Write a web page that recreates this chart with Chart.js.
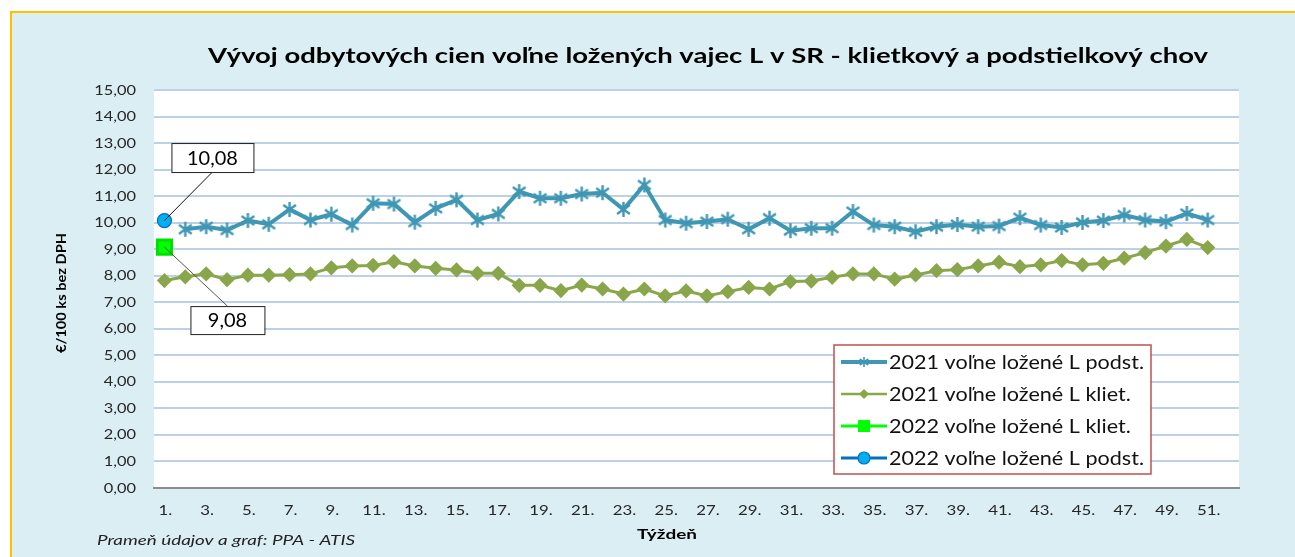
<!DOCTYPE html>
<html>
<head>
<meta charset="utf-8">
<script src="https://cdn.jsdelivr.net/npm/chart.js@4.4.1/dist/chart.umd.min.js"></script>
<style>
  html, body { margin: 0; padding: 0; background: #fff; }
  #wrap { width: 1295px; height: 557px; }
</style>
</head>
<body>
<div id="wrap"><canvas id="chart" width="1295" height="557"></canvas></div>
<script>
// week labels (x axis)
const weeks = ['1.', '2.', '3.', '4.', '5.', '6.', '7.', '8.', '9.', '10.',
  '11.', '12.', '13.', '14.', '15.', '16.', '17.', '18.', '19.', '20.',
  '21.', '22.', '23.', '24.', '25.', '26.', '27.', '28.', '29.', '30.',
  '31.', '32.', '33.', '34.', '35.', '36.', '37.', '38.', '39.', '40.',
  '41.', '42.', '43.', '44.', '45.', '46.', '47.', '48.', '49.', '50.',
  '51.', '52.'];

// EUR / 100 ks bez DPH
const podst2021 = [null, 9.75, 9.85, 9.72, 10.08, 9.94, 10.50, 10.10, 10.32, 9.91,
  10.73, 10.70, 10.02, 10.54, 10.86, 10.10, 10.33, 11.17, 10.92, 10.92,
  11.08, 11.13, 10.50, 11.42, 10.10, 9.98, 10.04, 10.13, 9.75, 10.17,
  9.70, 9.79, 9.79, 10.42, 9.91, 9.85, 9.66, 9.85, 9.93, 9.85,
  9.87, 10.19, 9.91, 9.82, 10.01, 10.08, 10.29, 10.10, 10.04, 10.35,
  10.10, null];
const kliet2021 = [7.82, 7.96, 8.07, 7.85, 8.02, 8.02, 8.04, 8.07, 8.30, 8.37,
  8.39, 8.53, 8.37, 8.28, 8.22, 8.09, 8.09, 7.64, 7.64, 7.44,
  7.65, 7.50, 7.31, 7.50, 7.24, 7.43, 7.24, 7.40, 7.56, 7.50,
  7.78, 7.80, 7.94, 8.07, 8.07, 7.87, 8.03, 8.19, 8.23, 8.37,
  8.51, 8.34, 8.41, 8.57, 8.41, 8.47, 8.66, 8.87, 9.12, 9.37,
  9.06, null];
const kliet2022 = [9.08];
const podst2022 = [10.08];

const FONT = 'Lato, "Open Sans", sans-serif';
const fmt = v => v.toFixed(2).replace('.', ',');

// text drawn a bit wider, the reference picture is stretched horizontally
function wideText(ctx, text, x, y, sx, align) {
  ctx.save();
  ctx.translate(x, y);
  ctx.scale(sx, 1);
  ctx.textAlign = align;
  ctx.fillText(text, 0, 0);
  ctx.restore();
}
function fitText(ctx, text, x, y, width, align) {
  wideText(ctx, text, x, y, width / ctx.measureText(text).width, align);
}

// asterisk marker like the Excel "star" marker
function asterisk(color, size, lw) {
  const c = document.createElement('canvas');
  c.width = c.height = size;
  const g = c.getContext('2d');
  g.strokeStyle = color;
  g.lineWidth = lw;
  const m = size / 2, r = size / 2 - 1;
  g.beginPath();
  g.moveTo(m - r * 0.85, m - r * 0.6); g.lineTo(m + r * 0.85, m + r * 0.6);
  g.moveTo(m + r * 0.85, m - r * 0.6); g.lineTo(m - r * 0.85, m + r * 0.6);
  g.moveTo(m, m - r); g.lineTo(m, m + r);
  g.stroke();
  return c;
}
const starImg = asterisk('#3f97b4', 17, 2.4);
const starSmall = asterisk('#3f97b4', 12, 1.6);

const backdrop = {
  id: 'backdrop',
  beforeDraw(chart) {
    const { ctx, chartArea: a } = chart;
    ctx.save();
    ctx.fillStyle = '#ffffff';
    ctx.fillRect(0, 0, chart.width, chart.height);
    ctx.fillStyle = '#dbeef4';
    ctx.fillRect(11, 12, chart.width, chart.height);
    ctx.strokeStyle = '#ffc000';
    ctx.lineWidth = 2;
    ctx.beginPath();
    ctx.moveTo(11, chart.height);
    ctx.lineTo(11, 12);
    ctx.lineTo(chart.width, 12);
    ctx.stroke();
    ctx.fillStyle = '#ffffff';
    ctx.fillRect(a.left, a.top, a.right - a.left, a.bottom - a.top);
    ctx.restore();
  }
};

// tick labels, titles and source note
const texts = {
  id: 'texts',
  afterDraw(chart) {
    const { ctx } = chart;
    const xs = chart.scales.x, ys = chart.scales.y;
    ctx.save();
    ctx.textBaseline = 'middle';
    ctx.fillStyle = '#262626';
    ctx.font = '14px ' + FONT;
    ys.ticks.forEach((t, i) => {
      wideText(ctx, fmt(t.value), 136, ys.getPixelForTick(i), 1.17, 'right');
    });
    xs.ticks.forEach((t, i) => {
      if (i % 2) return;
      wideText(ctx, xs.getLabelForValue(t.value), xs.getPixelForTick(i) + 1, 510, 1.2, 'center');
    });

    ctx.fillStyle = '#000';
    ctx.font = 'bold 21px ' + FONT;
    fitText(ctx, 'Vývoj odbytových cien voľne ložených vajec L v SR - klietkový a podstielkový chov', 708, 56, 1000, 'center');
    ctx.font = 'bold 14px ' + FONT;
    fitText(ctx, 'Týždeň', 667, 534, 60, 'center');
    ctx.save();
    ctx.translate(61, 293);
    ctx.rotate(-Math.PI / 2);
    ctx.font = 'bold 14px ' + FONT;
    fitText(ctx, '€/100 ks bez DPH', 0, 0, 120, 'center');
    ctx.restore();
    ctx.fillStyle = '#222';
    ctx.font = 'italic 13px ' + FONT;
    fitText(ctx, 'Prameň údajov a graf: PPA - ATIS', 97, 541, 258, 'left');
    ctx.restore();
  }
};

// boxed value labels with a leader line to the point
const callouts = {
  id: 'callouts',
  afterDatasetsDraw(chart) {
    const { ctx } = chart;
    chart.data.datasets.forEach((ds, i) => {
      if (!ds.callout) return;
      const pt = chart.getDatasetMeta(i).data[0];
      const c = ds.callout;
      const bx = pt.x + c.dx, by = pt.y + c.dy;
      ctx.save();
      ctx.strokeStyle = c.lineColor;
      ctx.lineWidth = 1;
      ctx.beginPath();
      ctx.moveTo(pt.x, pt.y);
      ctx.lineTo(bx, by + (c.dy < 0 ? c.h / 2 : -c.h / 2));
      ctx.stroke();
      ctx.fillStyle = '#fff';
      ctx.fillRect(bx - c.w / 2, by - c.h / 2, c.w, c.h);
      ctx.strokeStyle = '#222';
      ctx.strokeRect(bx - c.w / 2 + 0.5, by - c.h / 2 + 0.5, c.w, c.h);
      ctx.fillStyle = '#000';
      ctx.font = '19px ' + FONT;
      ctx.textBaseline = 'middle';
      wideText(ctx, fmt(ds.data[0]), bx, by + 1, 1.05, 'center');
      ctx.restore();
    });
  }
};

const boxLegend = {
  id: 'boxLegend',
  afterDraw(chart) {
    const { ctx } = chart;
    const x = 834, y = 345, w = 317, h = 129;
    ctx.save();
    ctx.fillStyle = '#fff';
    ctx.fillRect(x, y, w, h);
    ctx.strokeStyle = '#c0504d';
    ctx.lineWidth = 1.5;
    ctx.strokeRect(x, y, w, h);
    ctx.font = '19px ' + FONT;
    const longest = Math.max(...chart.data.datasets.map(d => ctx.measureText(d.label).width));
    const sx = 255 / longest;
    chart.data.datasets.forEach((ds, k) => {
      const cy = y + 17 + k * 32;
      ctx.strokeStyle = ds.borderColor;
      ctx.lineWidth = ds.legendLine;
      ctx.beginPath();
      ctx.moveTo(841, cy);
      ctx.lineTo(887, cy);
      ctx.stroke();
      const mx = 864;
      if (ds.pointStyle instanceof HTMLCanvasElement) {
        ctx.drawImage(starSmall, mx - 6, cy - 6);
      } else if (ds.pointStyle === 'rectRot') {
        ctx.fillStyle = ds.pointBackgroundColor;
        ctx.beginPath();
        ctx.moveTo(mx, cy - 5); ctx.lineTo(mx + 5, cy);
        ctx.lineTo(mx, cy + 5); ctx.lineTo(mx - 5, cy);
        ctx.closePath(); ctx.fill();
      } else if (ds.pointStyle === 'rect') {
        ctx.fillStyle = ds.pointBackgroundColor;
        ctx.fillRect(mx - 6, cy - 6, 12, 12);
      } else {
        ctx.fillStyle = ds.pointBackgroundColor;
        ctx.strokeStyle = ds.pointBorderColor;
        ctx.lineWidth = 1.2;
        ctx.beginPath();
        ctx.arc(mx, cy, 6, 0, Math.PI * 2);
        ctx.fill(); ctx.stroke();
      }
      ctx.fillStyle = '#111';
      ctx.textBaseline = 'middle';
      wideText(ctx, ds.label, 889, cy + 1, sx, 'left');
    });
    ctx.restore();
  }
};

new Chart(document.getElementById('chart'), {
  type: 'line',
  data: {
    labels: weeks,
    datasets: [
      {
        label: '2021 voľne ložené L podst.',
        data: podst2021,
        borderColor: '#3f97b4',
        borderWidth: 4,
        pointStyle: starImg,
        pointRadius: 8,
        legendLine: 4,
        tension: 0,
        order: 3
      },
      {
        label: '2021 voľne ložené L kliet.',
        data: kliet2021,
        borderColor: '#8aa64a',
        backgroundColor: '#8aa64a',
        pointBackgroundColor: '#8aa64a',
        pointBorderColor: '#8aa64a',
        borderWidth: 3,
        pointStyle: 'rectRot',
        pointRadius: 5.5,
        legendLine: 2.5,
        tension: 0,
        order: 2
      },
      {
        label: '2022 voľne ložené L kliet.',
        data: kliet2022,
        borderColor: '#00ff00',
        pointBackgroundColor: '#00ff00',
        pointBorderColor: '#00e000',
        borderWidth: 3,
        pointStyle: 'rect',
        pointRadius: 10,
        legendLine: 3,
        order: 1,
        callout: { dx: 63, dy: 73, w: 74, h: 28, lineColor: '#555' }
      },
      {
        label: '2022 voľne ložené L podst.',
        data: podst2022,
        borderColor: '#0070c0',
        pointBackgroundColor: '#00b0f0',
        pointBorderColor: '#0070c0',
        borderWidth: 3,
        pointStyle: 'circle',
        pointRadius: 7,
        pointBorderWidth: 1.2,
        legendLine: 3,
        order: 0,
        callout: { dx: 48, dy: -63, w: 82, h: 29, lineColor: '#111' }
      }
    ]
  },
  options: {
    responsive: false,
    animation: false,
    layout: { padding: { left: 0, top: 90, right: 56, bottom: 0 } },
    plugins: {
      legend: { display: false },
      title: { display: false },
      tooltip: { enabled: false }
    },
    scales: {
      x: {
        offset: true,
        afterFit: s => { s.height = 69; },
        grid: { display: false, drawTicks: false },
        border: { display: true, color: '#8c8c8c', width: 2 },
        ticks: { display: false, autoSkip: false, maxRotation: 0 }
      },
      y: {
        min: 0,
        max: 15,
        afterFit: s => { s.width = 154; },
        grid: { color: '#bcd0e6', lineWidth: 2, drawTicks: false },
        border: { display: false },
        ticks: { display: false, stepSize: 1 }
      }
    }
  },
  plugins: [backdrop, callouts, texts, boxLegend]
});
</script>
</body>
</html>
